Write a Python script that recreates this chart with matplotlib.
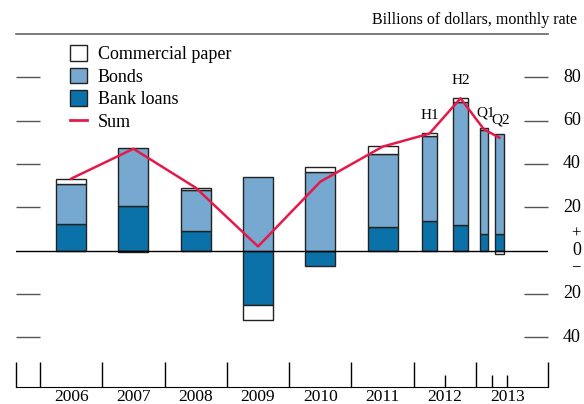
import numpy as np
import matplotlib.pyplot as plt
from matplotlib.patches import Patch
from matplotlib.lines import Line2D
import matplotlib.transforms as mtransforms

plt.rcParams['font.family'] = ['Liberation Serif', 'DejaVu Serif']

# data (billions of dollars, monthly rate)
periods = ['2006', '2007', '2008', '2009', '2010', '2011', 'H1', 'H2', 'Q1', 'Q2']
x_pos = [0.5, 1.5, 2.5, 3.5, 4.5, 5.5, 6.25, 6.75, 7.125, 7.375]
widths = [0.48, 0.48, 0.48, 0.48, 0.48, 0.48, 0.25, 0.25, 0.135, 0.135]
bank_loans = [12.2, 20.5, 9.0, -25.1, -7.0, 10.7, 13.6, 11.8, 7.8, 7.8]
bonds = [18.5, 27.0, 18.9, 34.0, 36.3, 34.1, 39.5, 57.0, 47.7, 45.9]
comm_paper = [2.3, -0.5, 1.2, -7.0, 2.3, 3.5, 1.1, 1.8, 1.1, -1.6]
total = [33.2, 47.0, 29.0, 1.9, 31.8, 48.0, 54.0, 70.3, 56.0, 52.1]
years = ['2006', '2007', '2008', '2009', '2010', '2011', '2012', '2013']

c_loans = '#0a72a8'
c_bonds = '#77a9d0'
c_cp = 'white'
c_sum = '#e5194a'
edge = '#222222'

fig = plt.figure(figsize=(5.84, 4.04), dpi=100)
ax = fig.add_axes([16 / 584, 1 - 387 / 404, 532 / 584, 353 / 404])

# stacked bars, positive and negative stacks kept apart
pos_base = np.zeros(len(x_pos))
neg_base = np.zeros(len(x_pos))
for vals, col in [(bank_loans, c_loans), (bonds, c_bonds), (comm_paper, c_cp)]:
    vals = np.array(vals)
    bottoms = np.where(vals >= 0, pos_base, neg_base)
    ax.bar(x_pos, vals, width=widths, bottom=bottoms, color=col,
           edgecolor=edge, linewidth=1, zorder=2)
    pos_base = pos_base + np.where(vals >= 0, vals, 0)
    neg_base = neg_base + np.where(vals < 0, vals, 0)

ax.plot(x_pos, total, color=c_sum, lw=1.8, zorder=4)
ax.axhline(0, color='black', lw=1, zorder=3)

ax.set_xlim(-0.385, 8.154)
ax.set_ylim(-63, 100)

# period labels on the short bars
for lab, xx, yy in [('H1', 6.25, 59.5), ('H2', 6.75, 75.5), ('Q1', 7.15, 60.5), ('Q2', 7.4, 57.5)]:
    ax.text(xx, yy, lab, ha='center', va='bottom', fontsize=11)

# y ticks inside on both sides, labels drawn on the right
ax.set_yticks([-40, -20, 20, 40, 60, 80])
ax.tick_params(axis='y', direction='in', length=17, width=1, color='#555555',
               left=True, right=True, labelleft=False, labelright=False)
ax.set_xticks([])
trans = mtransforms.blended_transform_factory(ax.transAxes, ax.transData)
for v in [80, 60, 40, 20, -20, -40]:
    ax.text(1.062, v, str(abs(v)), transform=trans, ha='right', va='center', fontsize=13)
ax.text(1.062, 0, '0', transform=trans, ha='right', va='center', fontsize=13)
ax.text(1.062, 8, '+', transform=trans, ha='right', va='center', fontsize=12)
ax.text(1.062, -7.5, '\u2212', transform=trans, ha='right', va='center', fontsize=12)

# spines
for s in ['left', 'right']:
    ax.spines[s].set_visible(False)
ax.spines['top'].set_color('#666666')
ax.spines['top'].set_linewidth(1.2)
ax.spines['bottom'].set_color('black')

# year separators along the bottom
ymin = -63
ax.vlines(list(range(0, 8)) + [-0.385, 8.154], ymin, ymin + 11.5, color='black', lw=1, clip_on=False)
ax.vlines([6.5, 7.25, 7.5], ymin, ymin + 5.5, color='black', lw=1)
for i, yr in enumerate(years):
    ax.text(i + 0.5, ymin - 6.6, yr, ha='center', va='baseline', fontsize=12.5)

fig.text(577 / 584, 1 - 20 / 404, 'Billions of dollars, monthly rate',
         ha='right', va='center', fontsize=11.5)

handles = [Patch(facecolor=c_cp, edgecolor=edge), Patch(facecolor=c_bonds, edgecolor=edge),
           Patch(facecolor=c_loans, edgecolor=edge), Line2D([], [], color=c_sum, lw=2)]
ax.legend(handles, ['Commercial paper', 'Bonds', 'Bank loans', 'Sum'],
          loc='upper left', bbox_to_anchor=(70 / 584, 1 - 45 / 404),
          bbox_transform=fig.transFigure, frameon=False, fontsize=13,
          handlelength=0.95, handleheight=0.95, handletextpad=0.6,
          labelspacing=0.25, borderpad=0, borderaxespad=0)

fig.savefig('out.png', dpi=100)
